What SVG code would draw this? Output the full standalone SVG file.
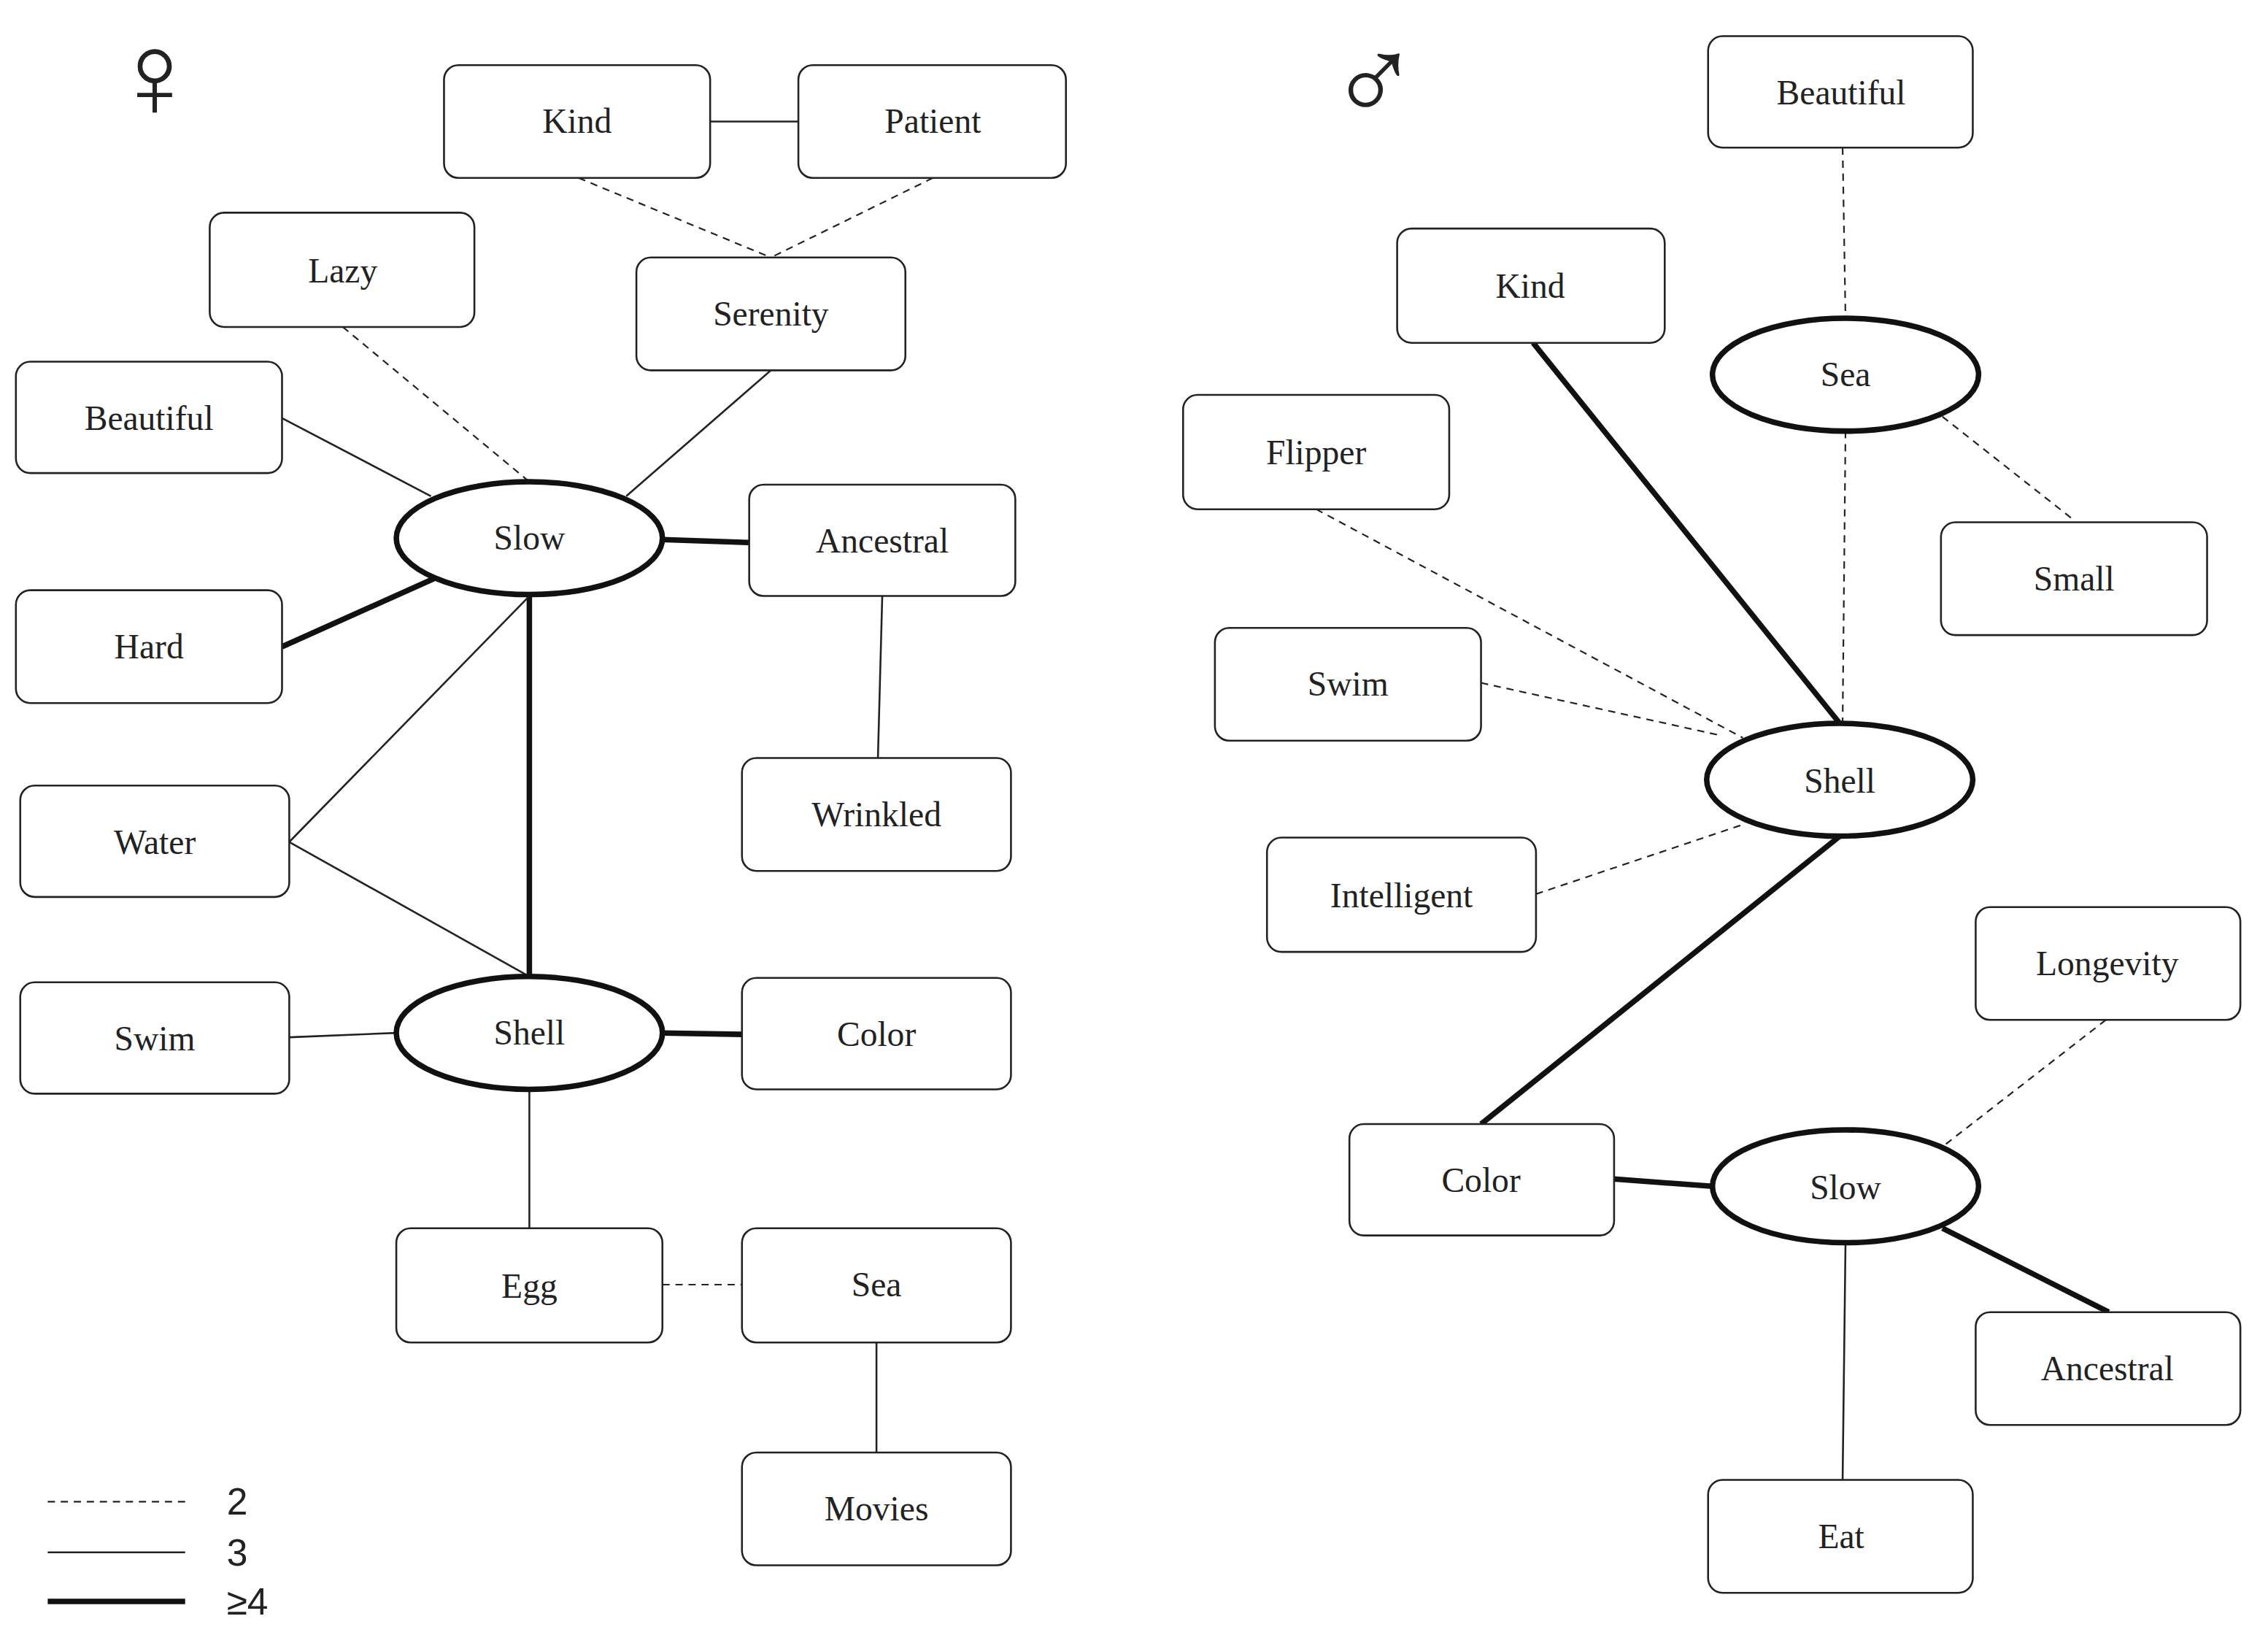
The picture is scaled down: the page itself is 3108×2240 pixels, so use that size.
<svg xmlns="http://www.w3.org/2000/svg" width="3108" height="2240" viewBox="0 0 3108 2240">
<style>
.b rect{fill:#fff;stroke:#222;stroke-width:1.3}
.e ellipse{fill:#fff;stroke:#111;stroke-width:3.8}
text{font-family:"Liberation Serif","Times New Roman",serif;font-size:24px;fill:#222;text-anchor:middle;dominant-baseline:central}
.lg{font-family:"Liberation Sans",Arial,sans-serif;font-size:26px}
.sym{font-family:"DejaVu Sans",sans-serif;font-size:84px;font-weight:200}
.d{stroke:#222;stroke-width:1.1;stroke-dasharray:5 4;fill:none}
.t{stroke:#222;stroke-width:1.3;fill:none}
.k{stroke:#111;stroke-width:3.8;fill:none}
</style>
<rect width="3108" height="2240" fill="#fff"/>
<g transform="scale(1.982)">
<g id="connectors">
<line class="t" x1="491" y1="84" x2="552" y2="84"/>
<line class="d" x1="400" y1="123" x2="533" y2="178"/>
<line class="d" x1="645" y1="123" x2="533" y2="178"/>
<line class="d" x1="237" y1="226" x2="366" y2="333"/>
<line class="t" x1="533" y1="256" x2="433" y2="343"/>
<line class="t" x1="195" y1="289" x2="298" y2="343"/>
<line class="k" x1="458" y1="373" x2="518" y2="375"/>
<line class="k" x1="195" y1="447" x2="300" y2="400"/>
<line class="k" x1="366" y1="411" x2="366" y2="675"/>
<line class="t" x1="200" y1="582" x2="366" y2="412"/>
<line class="t" x1="200" y1="582" x2="366" y2="675"/>
<line class="t" x1="610" y1="412" x2="607" y2="524"/>
<line class="t" x1="200" y1="717" x2="274" y2="714"/>
<line class="k" x1="458" y1="714" x2="513" y2="715"/>
<line class="t" x1="366" y1="753" x2="366" y2="849"/>
<line class="d" x1="458" y1="888" x2="513" y2="888"/>
<line class="t" x1="606" y1="928" x2="606" y2="1004"/>
<line class="d" x1="1274" y1="102" x2="1276" y2="220"/>
<line class="d" x1="1276" y1="298" x2="1274" y2="500"/>
<line class="d" x1="1343" y1="288" x2="1432" y2="358"/>
<line class="k" x1="1060" y1="237" x2="1272" y2="500"/>
<line class="d" x1="910" y1="352" x2="1205" y2="510"/>
<line class="d" x1="1024" y1="472" x2="1188" y2="508"/>
<line class="d" x1="1062" y1="618" x2="1205" y2="570"/>
<line class="k" x1="1272" y1="578" x2="1024" y2="777"/>
<line class="k" x1="1116" y1="815" x2="1184" y2="820"/>
<line class="d" x1="1456" y1="705" x2="1340" y2="795"/>
<line class="k" x1="1343" y1="849" x2="1458" y2="907"/>
<line class="t" x1="1276" y1="859" x2="1274" y2="1023"/>
</g>
<g class="b">
<g id="f-kind"><rect x="307" y="45" width="184" height="78" rx="10"/><text x="399" y="84">Kind</text></g>
<g id="f-patient"><rect x="552" y="45" width="185" height="78" rx="10"/><text x="645" y="84">Patient</text></g>
<g id="f-lazy"><rect x="145" y="147" width="183" height="79" rx="10"/><text x="237" y="187">Lazy</text></g>
<g id="f-serenity"><rect x="440" y="178" width="186" height="78" rx="10"/><text x="533" y="217">Serenity</text></g>
<g id="f-beautiful"><rect x="11" y="250" width="184" height="77" rx="10"/><text x="103" y="289">Beautiful</text></g>
<g id="f-ancestral"><rect x="518" y="335" width="184" height="77" rx="10"/><text x="610" y="374">Ancestral</text></g>
<g id="f-hard"><rect x="11" y="408" width="184" height="78" rx="10"/><text x="103" y="447">Hard</text></g>
<g id="f-water"><rect x="14" y="543" width="186" height="77" rx="10"/><text x="107" y="582">Water</text></g>
<g id="f-wrinkled"><rect x="513" y="524" width="186" height="78" rx="10"/><text x="606" y="563">Wrinkled</text></g>
<g id="f-swim"><rect x="14" y="679" width="186" height="77" rx="10"/><text x="107" y="718">Swim</text></g>
<g id="f-color"><rect x="513" y="676" width="186" height="77" rx="10"/><text x="606" y="715">Color</text></g>
<g id="f-egg"><rect x="274" y="849" width="184" height="79" rx="10"/><text x="366" y="889">Egg</text></g>
<g id="f-sea"><rect x="513" y="849" width="186" height="79" rx="10"/><text x="606" y="888">Sea</text></g>
<g id="f-movies"><rect x="513" y="1004" width="186" height="78" rx="10"/><text x="606" y="1043">Movies</text></g>
<g id="m-beautiful"><rect x="1181" y="25" width="183" height="77" rx="10"/><text x="1273" y="64">Beautiful</text></g>
<g id="m-kind"><rect x="966" y="158" width="185" height="79" rx="10"/><text x="1058" y="198">Kind</text></g>
<g id="m-flipper"><rect x="818" y="273" width="184" height="79" rx="10"/><text x="910" y="313">Flipper</text></g>
<g id="m-small"><rect x="1342" y="361" width="184" height="78" rx="10"/><text x="1434" y="400">Small</text></g>
<g id="m-swim"><rect x="840" y="434" width="184" height="78" rx="10"/><text x="932" y="473">Swim</text></g>
<g id="m-intelligent"><rect x="876" y="579" width="186" height="79" rx="10"/><text x="969" y="619">Intelligent</text></g>
<g id="m-longevity"><rect x="1366" y="627" width="183" height="78" rx="10"/><text x="1457" y="666">Longevity</text></g>
<g id="m-color"><rect x="933" y="777" width="183" height="77" rx="10"/><text x="1024" y="816">Color</text></g>
<g id="m-ancestral"><rect x="1366" y="907" width="183" height="78" rx="10"/><text x="1457" y="946">Ancestral</text></g>
<g id="m-eat"><rect x="1181" y="1023" width="183" height="78" rx="10"/><text x="1273" y="1062">Eat</text></g>
</g>
<g class="e">
<g id="f-slow"><ellipse cx="366" cy="372" rx="92" ry="39"/><text x="366" y="372">Slow</text></g>
<g id="f-shell"><ellipse cx="366" cy="714" rx="92" ry="39"/><text x="366" y="714">Shell</text></g>
<g id="m-sea"><ellipse cx="1276" cy="259" rx="92" ry="39"/><text x="1276" y="259">Sea</text></g>
<g id="m-shell"><ellipse cx="1272" cy="539" rx="92" ry="39"/><text x="1272" y="540">Shell</text></g>
<g id="m-slow"><ellipse cx="1276" cy="820" rx="92" ry="39"/><text x="1276" y="821">Slow</text></g>
</g>
<g id="symbols">
<text class="sym" x="107" y="52">♀</text>
<text class="sym" x="950" y="55">♂</text>
</g>
<g id="legend">
<line class="d" x1="33" y1="1038" x2="128" y2="1038"/>
<line class="t" x1="33" y1="1073" x2="128" y2="1073"/>
<line class="k" x1="33" y1="1107" x2="128" y2="1107"/>
<text class="lg" x="164" y="1038">2</text>
<text class="lg" x="164" y="1073">3</text>
<text class="lg" x="171" y="1107">≥4</text>
</g>
</g>
</svg>
